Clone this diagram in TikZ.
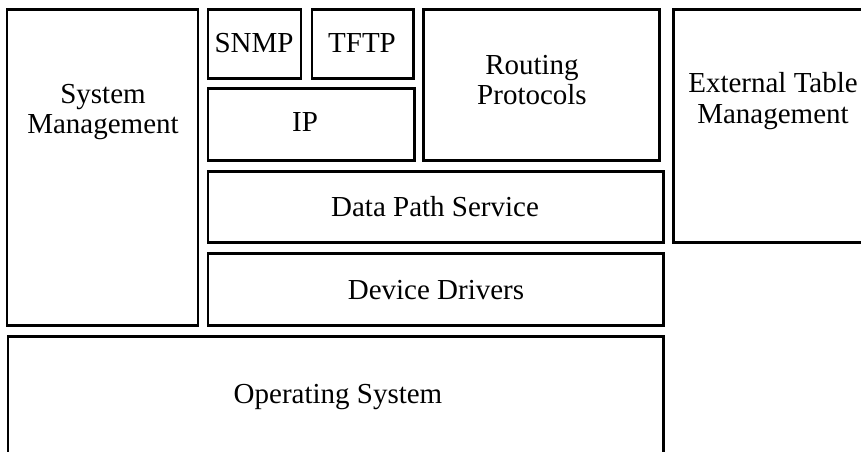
\documentclass[tikz,border=0pt]{standalone}
\usepackage{fontspec}
\setmainfont{Liberation Serif}
\usepackage{tikz}
\newcommand\boxfont{\fontsize{16.5}{17.5}\selectfont}

\begin{document}
\begin{tikzpicture}[
x=0.02cm, y=-0.02cm,
    B/.style = {draw, line width=1.7pt, line join=miter},% frame of one layer
    T/.style = {align=center, font=\boxfont, inner sep=0pt},% text of one layer
                        ]
\useasboundingbox (0,0) rectangle (861,451);
\clip (0,0) rectangle (861,451);
\foreach \a/\b/\c/\d in {7/9/198/325, 208/9/301/78, 312/9/413/78,
                         208/88/414/160, 423/9/659/160, 673/9/880/242,
                         208/171/663/242, 208/253/663/325, 8/336/663/470}% <-- corners
    \draw[B] (\a,\b) rectangle (\c,\d);
\foreach \n/\x/\y/\t in {sys/103/112/{System\\Management},
                         snmp/254/43/{SNMP}, tftp/362/43/{TFTP},
                         ip/305/122/{IP}, rout/532/80/{Routing\\Protocols},
                         ext/773/101/{External Table\\Management},
                         dps/435/207/{Data Path Service},
                         dd/436/290/{Device Drivers},
                         os/338/397/{Operating System}}% <-- content of nodes
    \node[T] (\n) at (\x,\y) {\t};
\end{tikzpicture}
\end{document}
